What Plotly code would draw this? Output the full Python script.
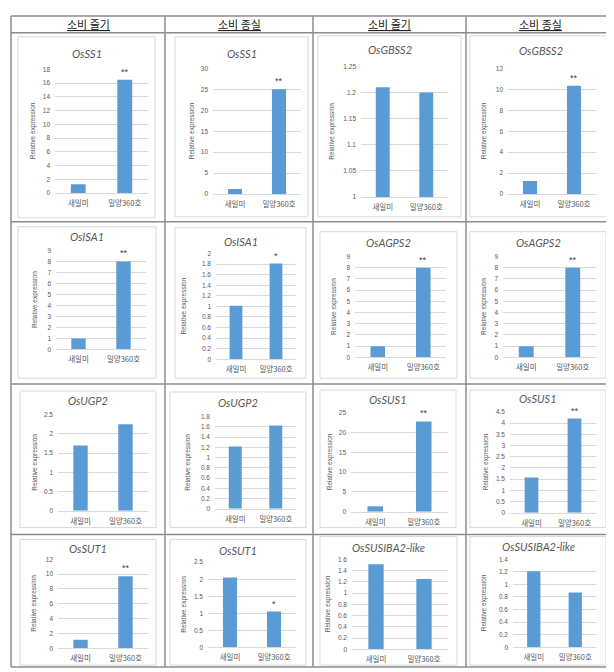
import plotly.graph_objects as go

W, H = 614, 672

# ---- data ---------------------------------------------------------------
HEADERS = ["소비 줄기", "소비 종실", "소비 줄기", "소비 종실"]
CULTIVARS = ["새일미", "밀양360호"]

# 16 panels, row by row (4 x 4)
GENES = ["OsSS1", "OsSS1", "OsGBSS2", "OsGBSS2",
         "OsISA1", "OsISA1", "OsAGPS2", "OsAGPS2",
         "OsUGP2", "OsUGP2", "OsSUS1", "OsSUS1",
         "OsSUT1", "OsSUT1", "OsSUSIBA2-like", "OsSUSIBA2-like"]
SAEILMI = [1.3, 1.2, 1.21, 1.25,
           1.0, 1.01, 1.0, 1.0,
           1.7, 1.22, 1.4, 1.57,
           1.16, 2.05, 1.51, 1.21]
MILYANG360 = [16.5, 25.0, 1.2, 10.35,
              8.0, 1.81, 8.0, 8.0,
              2.25, 1.63, 22.8, 4.2,
              9.7, 1.05, 1.25, 0.87]
SIGNIF = ["**", "**", "", "**",
          "**", "*", "**", "**",
          "", "", "**", "**",
          "**", "*", "", ""]
Y_MIN = [0, 0, 1, 0,
         0, 0, 0, 0,
         0, 0, 0, 0,
         0, 0, 0, 0]
Y_MAX = [18, 30, 1.25, 12,
         9, 2, 9, 9,
         2.5, 1.8, 25, 4.5,
         12, 2.5, 1.6, 1.4]
Y_STEP = [2, 5, 0.05, 2,
          1, 0.2, 1, 1,
          0.5, 0.2, 5, 0.5,
          2, 0.5, 0.2, 0.2]

# ---- layout geometry (pixels) ------------------------------------------
# panel box x0, x1, y0, y1 ; plot area x0, x1, ytop, ybottom ; title y ; y-title x
PANELS = [
    ((10, 147, 25, 208), (47, 140, 58, 183), 42, 25),
    ((167, 300, 25, 207), (205, 293, 57, 184), 42, 184),
    ((310, 453, 24, 207), (353, 440, 55, 187), 38, 324),
    ((462, 603, 24, 207), (500, 588, 57, 184), 39, 476),
    ((10, 148, 217, 370), (48, 138, 241, 341), 227, 27),
    ((167, 298, 218, 370), (208, 288, 244, 351), 232, 176),
    ((312, 449, 222, 370), (347, 438, 247, 349), 233, 326),
    ((462, 598, 222, 370), (495, 588, 247, 349), 233, 476),
    ((12, 148, 383, 521), (50, 140, 407, 504), 393, 27),
    ((162, 298, 384, 521), (207, 288, 409, 502), 395, 180),
    ((312, 448, 382, 521), (343, 440, 405, 505), 392, 322),
    ((462, 598, 382, 521), (502, 588, 404, 506), 391, 478),
    ((12, 148, 533, 660), (50, 140, 553, 643), 542, 26),
    ((162, 298, 533, 660), (200, 288, 556, 642), 544, 176),
    ((312, 449, 530, 660), (344, 440, 553, 644), 541, 320),
    ((462, 598, 530, 660), (505, 588, 553, 642), 540, 476),
]
COL_LINES = [3, 157, 305, 458, 607]
ROW_LINES = [4, 21, 212, 376, 528, 662]

BAR = "#5b9bd5"
GRID = "#d9d9d9"
TXT = "#595959"
TABLE = "#8c8c8c"
KR = "Noto Sans CJK KR"


def px(x):
    return x / W


def py(y):
    return 1 - y / H


fig = go.Figure()
shapes = []
annotations = []
layout_axes = {}

for i, gene in enumerate(GENES):
    k = i + 1
    sfx = "" if k == 1 else str(k)
    (bx0, bx1, by0, by1), (gx0, gx1, gyt, gyb), title_y, ytitle_x = PANELS[i]

    fig.add_trace(go.Bar(
        x=CULTIVARS, y=[SAEILMI[i], MILYANG360[i]],
        xaxis="x" + sfx, yaxis="y" + sfx,
        marker=dict(color=BAR, line=dict(width=0)),
        width=0.32, showlegend=False, hoverinfo="x+y",
    ))

    layout_axes["xaxis" + sfx] = dict(
        domain=[px(gx0), px(gx1)], anchor="y" + sfx,
        showgrid=False, showline=True, linecolor=GRID, linewidth=1,
        ticks="", ticklabelstandoff=3,
        tickfont=dict(family=KR, size=7.5, color=TXT),
        range=[-0.5, 1.5], fixedrange=True,
    )
    layout_axes["yaxis" + sfx] = dict(
        domain=[py(gyb), py(gyt)], anchor="x" + sfx,
        range=[Y_MIN[i], Y_MAX[i]], dtick=Y_STEP[i], tick0=Y_MIN[i],
        showgrid=True, gridcolor=GRID, gridwidth=1, zeroline=False,
        showline=False, ticks="", ticklabelstandoff=4,
        tickfont=dict(family="Liberation Sans", size=6.5, color=TXT),
        fixedrange=True,
    )

    # panel frame
    shapes.append(dict(type="rect", xref="paper", yref="paper",
                       x0=px(bx0), x1=px(bx1), y0=py(by1), y1=py(by0),
                       line=dict(color=GRID, width=1), layer="below"))
    # gene title
    annotations.append(dict(
        text="<i>%s</i>" % gene, xref="paper", yref="paper",
        x=px((bx0 + bx1) / 2), y=py(title_y), xanchor="center", yanchor="middle",
        showarrow=False, font=dict(family="Lato", size=11, color=TXT),
    ))
    # y title
    annotations.append(dict(
        text="Relative expression", xref="paper", yref="paper",
        x=px(ytitle_x), y=py((gyt + gyb) / 2), textangle=-90,
        xanchor="center", yanchor="middle", showarrow=False,
        font=dict(family="Liberation Sans", size=6.5, color=TXT),
    ))
    # significance marks
    if SIGNIF[i]:
        annotations.append(dict(
            text=SIGNIF[i], xref="x" + sfx, yref="y" + sfx,
            x=CULTIVARS[1], y=MILYANG360[i], yanchor="bottom", yshift=1,
            showarrow=False,
            font=dict(family="Liberation Sans", size=9, color="#404040"),
        ))

# table grid
for x in COL_LINES:
    shapes.append(dict(type="line", xref="paper", yref="paper",
                       x0=px(x), x1=px(x), y0=py(ROW_LINES[-1]), y1=py(ROW_LINES[0]),
                       line=dict(color=TABLE, width=1.5)))
for y in ROW_LINES:
    shapes.append(dict(type="line", xref="paper", yref="paper",
                       x0=px(COL_LINES[0]), x1=px(COL_LINES[-1]), y0=py(y), y1=py(y),
                       line=dict(color=TABLE, width=1.5)))

# header row
for j, h in enumerate(HEADERS):
    annotations.append(dict(
        text="<u>%s</u>" % h, xref="paper", yref="paper",
        x=px((COL_LINES[j] + COL_LINES[j + 1]) / 2), y=py((ROW_LINES[0] + ROW_LINES[1]) / 2),
        xanchor="center", yanchor="middle", showarrow=False,
        font=dict(family=KR, size=11, color="#222222"),
    ))

fig.update_layout(
    width=W, height=H,
    margin=dict(l=0, r=0, t=0, b=0),
    paper_bgcolor="white", plot_bgcolor="white",
    shapes=shapes, annotations=annotations,
    bargap=0.68,
    **layout_axes,
)

fig.write_html("out.html", config={"displayModeBar": False})
